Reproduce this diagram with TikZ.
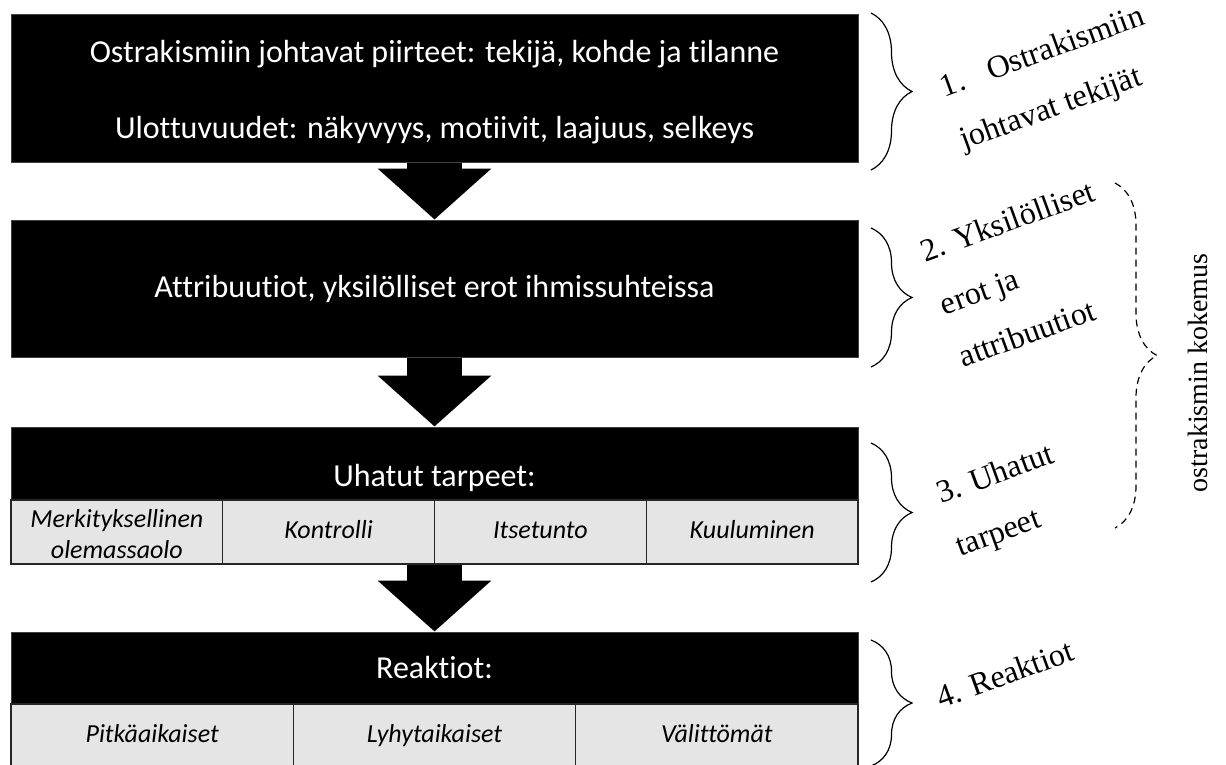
\documentclass[tikz,border=0pt]{standalone}
\usepackage{fontspec}
\setmainfont{Liberation Serif}
\newfontfamily\carlito[Ligatures=NoCommon]{Carlito}
\usetikzlibrary{arrows.meta,decorations.pathreplacing}
\tikzstyle{stage}=[rectangle,fill=black,draw=black!75,line width=1pt,text=white,minimum width=847pt,inner sep=0pt,align=center,font=\carlito\fontsize{32}{38}\selectfont]
\tikzstyle{need}=[rectangle,fill=black!10,draw=black!85,line width=1.2pt,minimum height=64pt,inner sep=0pt,align=center,font=\carlito\itshape\fontsize{26}{31}\selectfont]
\tikzstyle{flow}=[line width=55pt,-{Triangle[width=111pt,length=51pt]}]
\tikzstyle{phase}=[rotate=20,align=left,inner sep=0pt,font=\fontsize{32}{56}\selectfont]
\tikzstyle{curly}=[decorate,decoration={brace,amplitude=41pt},line width=1.2pt]

\begin{document}
\begin{tikzpicture}[x=1pt,y=-1pt]
              \useasboundingbox (0,0) rectangle (1226,765);
              \node[stage,minimum height=147pt] (B-1) at (434.5,88.5)
                {\rule{0pt}{30pt}Ostrakismiin johtavat piirteet: tekijä, kohde ja tilanne\\[38pt]Ulottuvuudet: näkyvyys, motiivit, laajuus, selkeys};
              \node[stage,minimum height=137pt] (B-2) at (434.5,288.5) {Attribuutiot, yksilölliset erot ihmissuhteissa};
              \node[stage,minimum height=73pt,text height=51pt] (B-3) at (434.5,463.5) {Uhatut tarpeet:};
              \node[stage,minimum height=72pt] (B-4) at (434.5,668) {Reaktiot:};
              \foreach \name/\i/\txt in {N-1/0/{Merkityksellinen\\olemassaolo}, N-2/1/Kontrolli,
                                         N-3/2/Itsetunto, N-4/3/Kuuluminen}
                \node[need,minimum width=211.75pt] (\name) at (116.875+\i*211.75,532) {\strut\txt};
              \foreach \name/\i/\txt in {R-1/0/Pitkäaikaiset, R-2/1/Lyhytaikaiset, R-3/2/Välittömät}
                \node[need,minimum width=282.33pt] (\name) at (152.17+\i*282.33,736) {\strut\txt};
              \foreach \from/\to in {B-1/B-2,B-2/B-3}
                \draw[flow] (\from) -- (\to);
              \draw[flow] (N-2.south east -| B-4.north) -- (B-4);
              \foreach \ya/\yb in {13/170,228/367,443/582,640/766}
                \draw[curly] (871,\ya) -- (871,\yb);
              \draw[curly,dash pattern=on 7pt off 5pt,decoration={amplitude=42pt}] (1115,183) -- (1115,528);
              \node[phase] (L-1) at (1052.6,79.8) {1.\hspace{25pt}Ostrakismiin\\johtavat tekijät};
              \node[phase] (L-2) at (1026.6,273.6) {2. Yksilölliset\\erot ja\\attribuutiot};
              \node[phase] (L-3) at (1005.6,502.2) {3. Uhatut\\tarpeet};
              \node[phase] (L-4) at (1005,673.8) {4. Reaktiot};
              \node[rotate=90,font=\fontsize{28}{34}\selectfont] (whole) at (1198,373) {ostrakismin kokemus};
            \end{tikzpicture}
\end{document}
